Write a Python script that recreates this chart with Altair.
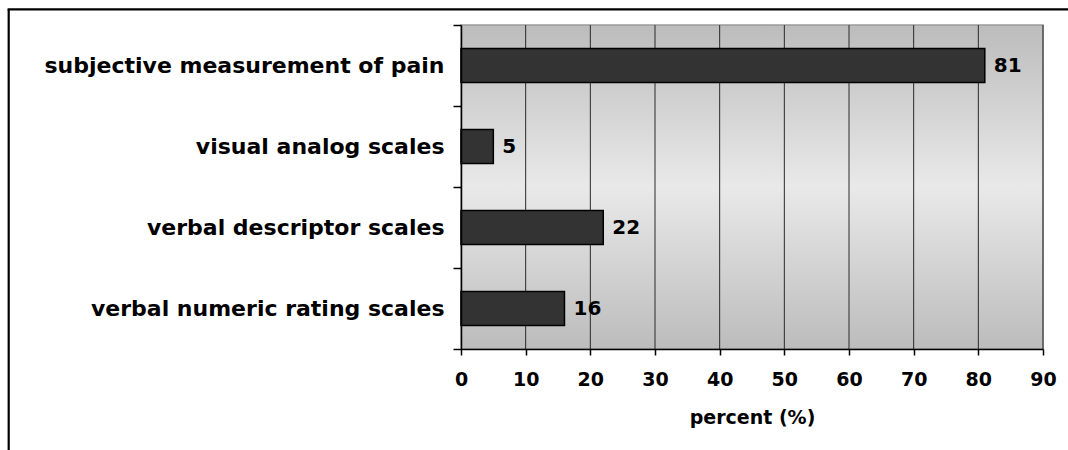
import altair as alt
import pandas as pd

categories = [
    "subjective measurement of pain",
    "visual analog scales",
    "verbal descriptor scales",
    "verbal numeric rating scales",
]
values = [81, 5, 22, 16]
x_ticks = [0, 10, 20, 30, 40, 50, 60, 70, 80, 90]
axis_title = "percent (%)"

df = pd.DataFrame({"category": categories, "percent": values})
grid_df = pd.DataFrame({"t": x_ticks[1:]})
one = pd.DataFrame({"a": [0]})

W, H = 582, 324
FONT = "DejaVu Sans"

xscale = alt.Scale(domain=[0, 90], nice=False, zero=True)
yscale = alt.Scale(paddingInner=0, paddingOuter=0)
x_axis = alt.Axis(
    values=x_ticks,
    title=axis_title,
    grid=False,
    labelFlush=False,
    domainColor="#000000",
    domainWidth=1.5,
    tickColor="#000000",
    tickSize=6,
    tickWidth=1.5,
    labelFont=FONT,
    labelFontSize=19,
    labelFontWeight="bold",
    labelColor="#000000",
    labelPadding=15,
    titleFont=FONT,
    titleFontSize=19,
    titleFontWeight="bold",
    titleColor="#000000",
    titlePadding=19,
    zindex=1,
)

bg = alt.Chart(one).mark_rect(
    color=alt.Gradient(
        gradient="linear",
        stops=[
            alt.GradientStop(color="#bcbcbc", offset=0),
            alt.GradientStop(color="#e9e9e9", offset=0.5),
            alt.GradientStop(color="#bcbcbc", offset=1),
        ],
        x1=0, x2=0, y1=0, y2=1,
    ),
    stroke="#9a9a9a",
    strokeWidth=1.5,
).encode(x=alt.value(0), x2=alt.value(W), y=alt.value(0), y2=alt.value(H))

grid = alt.Chart(grid_df).mark_rule(color="#2a2a2a", strokeWidth=1).encode(
    x=alt.X("t:Q", scale=xscale, axis=x_axis),
    y=alt.value(0),
    y2=alt.value(H),
)

bars = alt.Chart(df).mark_bar(
    size=34, color="#333333", stroke="#000000", strokeWidth=1.5
).encode(
    x=alt.X("percent:Q", scale=xscale, axis=x_axis),
    y=alt.Y(
        "category:N",
        sort=categories,
        scale=yscale,
        axis=alt.Axis(
            title=None,
            tickBand="extent",
            grid=False,
            domainColor="#000000",
            domainWidth=1.5,
            tickColor="#000000",
            tickSize=8,
            tickWidth=1.5,
            labelFont=FONT,
            labelFontSize=22,
            labelFontWeight="bold",
            labelColor="#000000",
            labelPadding=9,
            labelLimit=600,
            zindex=1,
        ),
    ),
)

labels = alt.Chart(df).mark_text(
    align="left", baseline="middle", dx=9, font=FONT, fontSize=20,
    fontWeight="bold", color="#000000"
).encode(
    x=alt.X("percent:Q", scale=xscale),
    y=alt.Y("category:N", sort=categories, scale=yscale),
    text=alt.Text("percent:Q"),
)

frame_left = alt.Chart(one).mark_rule(color="#000000", strokeWidth=2.2).encode(
    x=alt.value(-452.3), y=alt.value(-15.7), y2=alt.value(440)
)
frame_top = alt.Chart(one).mark_rule(color="#000000", strokeWidth=2.2).encode(
    x=alt.value(-453.4), x2=alt.value(620), y=alt.value(-15.7)
)

chart = alt.layer(bg, grid, bars, labels, frame_left, frame_top).properties(
    width=W,
    height=H,
    autosize=alt.AutoSizeParams(type="none"),
    padding={"left": 461, "top": 25, "right": 25, "bottom": 101},
    background="#ffffff",
).configure_view(stroke=None)

chart.save("out.html", embed_options={"renderer": "svg", "actions": False})
